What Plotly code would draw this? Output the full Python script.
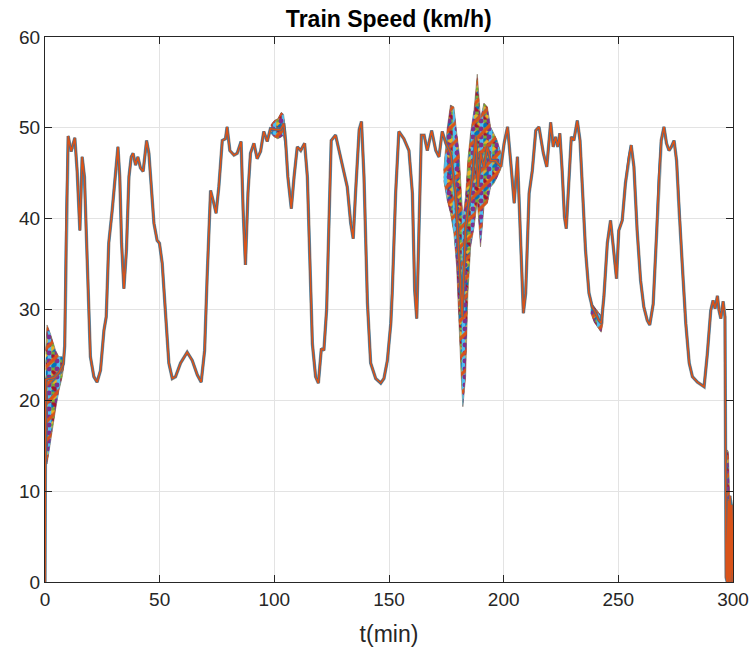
import plotly.graph_objects as go

# ---------------- data ----------------
t_main = [0.0, 0.3, 2.0, 4.0, 6.0, 8.0, 8.6, 9.3, 10.1, 11.4, 13.0, 14.0, 15.2, 16.2, 17.2,
          18.4, 19.8, 21.3, 22.7, 24.2, 25.7, 26.7, 27.8, 29.3, 30.7, 31.8, 32.6, 33.4, 34.4,
          35.5, 36.6, 37.6, 38.4, 39.5, 40.5, 41.6, 42.8, 44.3, 45.3, 46.3, 47.5, 48.9, 49.9,
          51.1, 52.5, 54.0, 55.5, 56.9, 59.1, 62.0, 64.2, 66.4, 68.1, 69.6, 70.7, 72.2, 73.6,
          74.6, 75.8, 77.3, 78.7, 79.4, 80.6, 82.4, 83.8, 85.5, 86.4, 87.4, 88.5, 89.6, 91.1,
          92.5, 94.0, 95.4, 96.9, 98.3, 100.5, 102.7, 104.1, 104.9, 105.9, 107.4, 108.6, 110.0,
          111.5, 113.2, 114.4, 115.5, 116.6, 118.0, 119.2, 120.5, 121.6, 122.8, 123.8, 124.8,
          126.7, 128.2, 129.6, 130.8, 131.8, 133.3, 134.4, 135.4, 137.0, 138.0, 139.1, 140.6,
          142.0, 144.2, 146.4, 147.8, 149.3, 150.8, 151.4, 152.9, 154.3, 156.5, 158.7, 160.2,
          161.2, 162.1, 163.1, 164.1, 165.3, 166.7, 168.6, 170.4, 171.8, 173.2, 174.8, 176.9,
          179.0, 180.5, 181.9, 183.4, 184.9, 186.4, 187.8, 188.8, 190.0, 191.4, 192.9, 194.3,
          196.5, 198.8, 200.2, 201.7, 203.4, 204.6, 206.0, 207.5, 208.6, 209.6, 211.1, 212.5,
          214.0, 215.4, 217.3, 218.8, 220.5, 221.6, 222.6, 223.6, 224.5, 225.5, 226.5, 227.3,
          228.4, 229.5, 230.6, 232.1, 233.3, 234.3, 235.7, 237.2, 238.6, 240.1, 241.5, 242.6,
          243.7, 245.2, 246.6, 247.8, 249.2, 250.2, 251.7, 253.1, 254.6, 255.6, 256.8, 258.2,
          259.7, 261.1, 262.6, 263.7, 265.2, 266.6, 267.7, 268.7, 269.9, 271.0, 272.1, 273.1,
          274.3, 275.4, 276.5, 278.0, 279.4, 280.9, 282.3, 284.5, 287.4, 288.8, 290.3, 291.3,
          292.2, 293.2, 293.9, 294.7, 295.7, 296.5, 297.0, 297.5, 297.9, 298.3, 298.7, 299.1,
          299.5, 300.0]
v_main = [0.0, 22.3, 22.4, 22.5, 23.0, 24.0, 26.0, 40.0, 49.1, 47.4, 48.9, 45.3, 38.7, 46.8, 44.6,
          35.4, 24.8, 22.6, 22.0, 23.3, 27.7, 29.2, 37.3, 40.9, 45.3, 47.9, 44.6, 37.3, 32.3,
          36.5, 44.6, 46.8, 47.2, 45.9, 46.8, 45.6, 45.2, 48.6, 47.2, 43.5, 39.5, 37.6, 37.3,
          35.1, 29.2, 24.1, 22.4, 22.6, 24.1, 25.3, 24.4, 22.8, 22.0, 25.5, 33.6, 43.1, 41.7,
          40.6, 43.5, 48.6, 48.8, 50.1, 47.5, 47.0, 47.2, 48.5, 40.9, 34.9, 42.8, 47.2, 48.3,
          46.6, 47.4, 49.6, 48.5, 49.9, 49.8, 49.8, 50.5, 48.6, 44.6, 41.1, 44.6, 47.9,
          47.5, 48.3, 44.6, 35.4, 26.2, 22.6, 21.9, 25.7, 25.5, 30.0, 40.9, 48.6,
          49.2, 47.5, 46.0, 44.9, 43.5, 39.5, 37.8, 42.8, 49.8, 50.7, 44.6, 30.7,
          24.1, 22.4, 21.9, 22.4, 24.4, 28.5, 31.8, 42.8, 49.6, 48.8, 47.5, 42.8,
          32.1, 29.0, 39.1, 49.2, 49.2, 47.5, 49.7, 47.5, 46.8, 49.6, 48.3, 47.2,
          42.8, 35.4, 29.2, 39.1, 42.0, 44.6, 49.0, 43.5, 47.2, 45.7, 47.9, 46.4,
          46.4, 45.7, 48.3, 50.1, 45.3, 41.7, 46.8, 37.3, 29.6, 31.8, 42.8, 45.3,
          49.7, 50.1, 47.2, 45.7, 50.6, 47.9, 49.0, 47.9, 49.4, 45.3, 40.2, 38.9,
          44.6, 49.0, 48.6, 50.8, 48.6, 42.8, 36.5, 31.8, 30.3, 29.6, 28.8, 28.5,
          31.4, 37.3, 39.8, 36.9, 33.4, 38.7, 39.8, 43.9, 46.8, 48.1, 45.7, 38.7,
          33.2, 30.3, 28.8, 28.3, 30.6, 38.0, 44.6, 48.6, 50.1, 48.3, 47.5, 47.9,
          48.6, 46.4, 40.9, 34.3, 28.5, 24.1, 22.6, 22.0, 21.5, 25.1, 29.9, 31.0,
          30.1, 31.5, 29.9, 29.0, 30.9, 29.2, 0.5, 0.0, 9.0, 0.0, 9.5, 0.0,
          8.5, 0.0]

# spread of the many overlaid runs (upper / lower envelopes) where they diverge
band_a_t = [0.3, 0.9, 2.4, 4.6, 6.0, 7.5, 8.2]
band_a_hi = [25.5, 28.3, 27.3, 25.5, 24.8, 24.8, 24.5]
band_a_lo = [13.0, 13.0, 15.5, 19.0, 21.0, 22.6, 23.7]

band_b_t = [173.9, 175.4, 176.8, 178.3, 179.5, 180.5, 181.5, 182.2, 183.4, 184.4, 185.6,
            187.1, 188.5, 189.9, 191.4, 192.9, 194.3, 195.8, 197.2, 198.8]
band_b_hi = [45.3, 50.0, 52.5, 52.3, 49.5, 47.5, 43.0, 40.0, 42.5, 46.5, 49.5,
             52.0, 55.9, 51.0, 52.7, 52.3, 50.1, 49.4, 48.6, 47.2]
band_b_lo = [44.2, 42.0, 40.6, 38.4, 34.7, 28.8, 22.6, 19.3, 22.6, 31.8, 36.9,
             39.1, 42.0, 36.9, 41.3, 41.7, 43.5, 43.9, 44.6, 45.5]

band_c_t = [297.2, 297.6, 298.0, 298.5, 299.0, 299.5, 300.0]
band_c_hi = [14.5, 14.5, 14.3, 9.5, 9.3, 9.0, 8.0]
band_c_lo = [0.3, 0.3, 0.3, 0.3, 0.3, 0.3, 0.3]

band_d_t = [98.5, 100.0, 101.5, 103.0, 104.0, 105.0]
band_d_hi = [50.3, 50.8, 51.0, 51.7, 51.5, 49.5]
band_d_lo = [49.4, 49.0, 48.8, 49.0, 49.2, 47.5]

band_e_t = [238.0, 239.5, 241.0, 242.5, 243.3]
band_e_hi = [30.8, 30.3, 29.8, 29.3, 30.0]
band_e_lo = [29.6, 28.6, 28.0, 27.5, 28.5]

x_ticks = [0, 50, 100, 150, 200, 250, 300]
y_ticks = [0, 10, 20, 30, 40, 50, 60]

# MATLAB default colour order
C_BLUE, C_ORANGE, C_YELLOW, C_PURPLE, C_GREEN, C_CYAN, C_RED = (
    "#0072BD", "#D95319", "#EDB120", "#7E2F8E", "#77AC30", "#4DBEEE", "#A2142F")

FONT = "Liberation Sans, Arial, sans-serif"

fig = go.Figure()

bands = [(band_a_t, band_a_hi, band_a_lo), (band_b_t, band_b_hi, band_b_lo),
         (band_c_t, band_c_hi, band_c_lo), (band_d_t, band_d_hi, band_d_lo),
         (band_e_t, band_e_hi, band_e_lo)]
patterns = [("/", C_YELLOW, 9, 0.5), ("\\", C_RED, 11, 0.35), ("-", C_GREEN, 8, 0.35),
            ("|", C_CYAN, 9, 0.4), (".", C_PURPLE, 8, 0.3), ("/", C_ORANGE, 13, 0.25)]
for bt, bh, bl in bands:
    px = list(bt) + list(bt)[::-1]
    py = list(bh) + list(bl)[::-1]
    for i, (shape, col, size, sol) in enumerate(patterns):
        fig.add_trace(go.Scatter(
            x=px, y=py, mode="lines", fill="toself",
            line=dict(width=0.8 if i == 0 else 0, color="#8c7f70"),
            fillcolor=C_BLUE if i == 0 else "rgba(0,0,0,0)",
            fillpattern=dict(shape=shape, fgcolor=col, fgopacity=1,
                             bgcolor=C_BLUE if i == 0 else "rgba(0,0,0,0)",
                             size=size, solidity=sol),
            hoverinfo="skip", showlegend=False))

# halo of the overlapping runs, then the blue run and the last (orange) run on top
fig.add_trace(go.Scatter(x=t_main, y=v_main, mode="lines",
                         line=dict(color="rgba(125,112,100,0.7)", width=3.4),
                         hoverinfo="skip", showlegend=False))
fig.add_trace(go.Scatter(x=t_main, y=v_main, mode="lines",
                         line=dict(color=C_BLUE, width=2.4),
                         hoverinfo="skip", showlegend=False))
fig.add_trace(go.Scatter(x=t_main, y=v_main, mode="lines",
                         line=dict(color=C_ORANGE, width=1.7),
                         name="Train speed", showlegend=False))

axis_common = dict(showline=True, linecolor="#262626", linewidth=1, mirror="ticks",
                   ticks="inside", ticklen=7, tickcolor="#262626", tickwidth=1,
                   showgrid=True, gridcolor="#e3e3e3", gridwidth=1, zeroline=False,
                   automargin=False,
                   tickfont=dict(family=FONT, size=19, color="#262626"))

W, H = 751, 653
plot_l, plot_r, plot_t, plot_b = 44.5, 733, 37, 582  # wanted page positions

fig.update_layout(
    width=W, height=H,
    margin=dict(l=plot_l, r=W - plot_r, t=plot_t, b=H - plot_b, autoexpand=False),
    paper_bgcolor="white", plot_bgcolor="white",
    title=dict(text="<b>Train Speed (km/h)</b>",
               x=(plot_l + plot_r) / 2 / W, xanchor="center",
               y=1 - 19 / H, yanchor="middle", automargin=False,
               font=dict(family=FONT, size=23, color="#000000")),
    xaxis=dict(range=[0, 300], tickvals=x_ticks, ticktext=[str(v) for v in x_ticks],
               title=dict(text="t(min)", standoff=17,
                          font=dict(family=FONT, size=23, color="#262626")),
               **axis_common),
    yaxis=dict(range=[0, 60], tickvals=y_ticks, ticktext=[str(v) for v in y_ticks],
               **axis_common),
)

# remove the browser's default page margin so the figure sits at the window's corner
fig.write_html("out.html",
               config={"displayModeBar": False},
               post_script="document.body.style.margin='0';"
                           "document.body.style.overflow='hidden';")
